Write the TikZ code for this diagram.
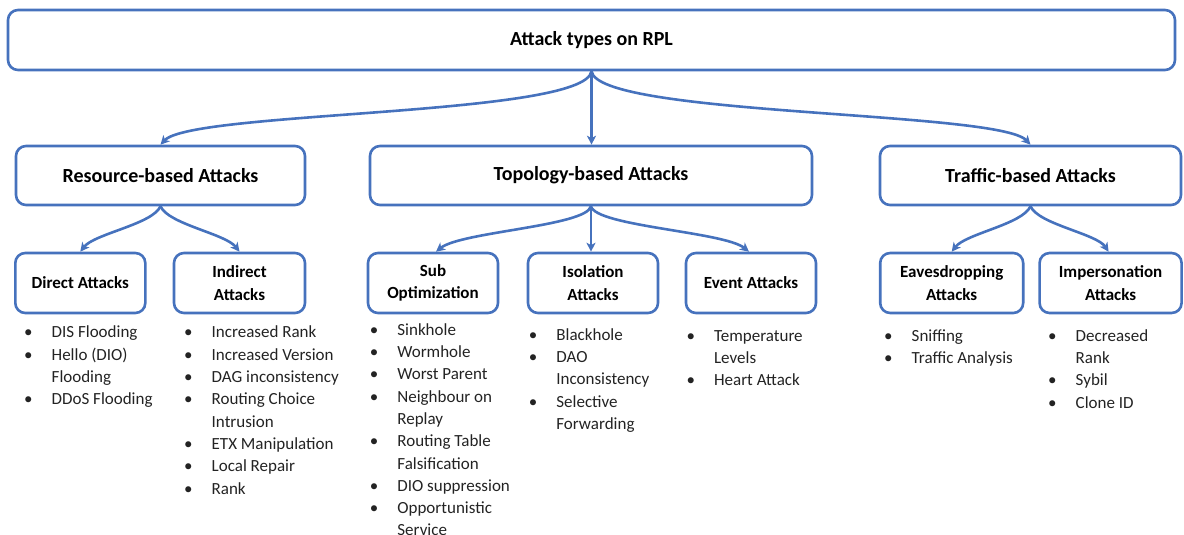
\documentclass[tikz,border=0pt]{standalone}
\usepackage{fontspec}
\setmainfont{Carlito}
\usetikzlibrary{arrows.meta,calc}
\definecolor{lb}{RGB}{70,114,189}
\definecolor{tx}{RGB}{35,35,35}
\newcommand\itm[1]{\strut\makebox[27.5pt][l]{\textbullet}#1}
\newcommand\cnt[1]{\strut\hspace*{27.5pt}#1}
\begin{document}
\begin{tikzpicture}[x=1pt,y=-1pt,
 box/.style={draw=lb, line width=2.6pt, rounded corners=10pt, fill=white, inner sep=0pt, align=center, text=black},
 big/.style={box, font=\fontsize{20}{24}\selectfont\bfseries, minimum height=59pt},
 sml/.style={box, font=\fontsize{17}{22.3}\selectfont\bfseries, minimum height=60pt},
 lst/.style={anchor=north west, inner sep=0pt, align=left, font=\fontsize{17}{22.3}\selectfont, text=tx},
 arr/.style={draw=lb, line width=2.6pt, -{Stealth[length=9pt,width=9pt,inset=2.5pt]}}
]
\useasboundingbox (0,0) rectangle (1184,535);

\node[big, minimum width=1167pt, minimum height=60pt] (top) at (591.5,40) {Attack types on RPL};

\node[big, minimum width=289pt] (res) at (160.5,175.5) {Resource-based Attacks};
\node[big, minimum width=442pt] (topo) at (591,175.5) {Topology-based Attacks};
\node[big, minimum width=301pt] (traf) at (1030.5,175.5) {Traffic-based Attacks};

\node[sml, minimum width=130pt] (dir) at (80.3,283) {Direct Attacks};
\node[sml, minimum width=131pt] (ind) at (239.5,283) {Indirect\\Attacks};
\node[sml, minimum width=130pt] (sub) at (433,283) {Sub\\Optimization};
\node[sml, minimum width=130pt] (iso) at (593,283) {Isolation\\Attacks};
\node[sml, minimum width=130pt] (evt) at (751,283) {Event Attacks};
\node[sml, minimum width=143pt] (eav) at (951.7,283) {Eavesdropping\\Attacks};
\node[sml, minimum width=142pt] (imp) at (1110.6,283) {Impersonation\\Attacks};

% connectors
\draw[arr] (top.south) .. controls ($(top.south)+(-7,45)$) and ($(res.north)+(32,-34)$) .. (res.north);
\draw[arr] (top.south) -- (top.south |- topo.north);
\draw[arr] (top.south) .. controls ($(top.south)+(7,45)$) and ($(traf.north)+(-32,-34)$) .. (traf.north);

\draw[arr] (res.south) .. controls ($(res.south)+(-8,18)$) and ($(dir.north)+(14,-18)$) .. (dir.north);
\draw[arr] (res.south) .. controls ($(res.south)+(8,18)$) and ($(ind.north)+(-14,-18)$) .. (ind.north);

\draw[arr] (topo.south) .. controls ($(topo.south)+(-5,20)$) and ($(sub.north)+(28,-20)$) .. ($(sub.north)+(3,0)$);
\draw[arr] (topo.south) -- (topo.south |- iso.north);
\draw[arr] (topo.south) .. controls ($(topo.south)+(5,20)$) and ($(evt.north)+(-27,-20)$) .. ($(evt.north)+(-2,0)$);

\draw[arr] (traf.south) .. controls ($(traf.south)+(-8,18)$) and ($(eav.north)+(14,-18)$) .. (eav.north);
\draw[arr] (traf.south) .. controls ($(traf.south)+(8,18)$) and ($(imp.north)+(-14,-18)$) .. ($(imp.north)+(-2,0)$);

% lists
\node[lst] (ldir) at (24,322.1) {\itm{DIS Flooding}\\\itm{Hello (DIO)}\\\cnt{Flooding}\\\itm{DDoS Flooding}};
\node[lst] (lind) at (184,322.1) {\itm{Increased Rank}\\\itm{Increased Version}\\\itm{DAG inconsistency}\\\itm{Routing Choice}\\\cnt{Intrusion}\\\itm{ETX Manipulation}\\\itm{Local Repair}\\\itm{Rank}};
\node[lst] (lsub) at (369.7,319.4) {\itm{Sinkhole}\\\itm{Wormhole}\\\itm{Worst Parent}\\\itm{Neighbour on}\\\cnt{Replay}\\\itm{Routing Table}\\\cnt{Falsification}\\\itm{DIO suppression}\\\itm{Opportunistic}\\\cnt{Service}};
\node[lst] (liso) at (528.7,324.4) {\itm{Blackhole}\\\itm{DAO}\\\cnt{Inconsistency}\\\itm{Selective}\\\cnt{Forwarding}};
\node[lst] (levt) at (686.4,325.4) {\itm{Temperature}\\\cnt{Levels}\\\itm{Heart Attack}};
\node[lst] (leav) at (884,325.4) {\itm{Sniffing}\\\itm{Traffic Analysis}};
\node[lst] (limp) at (1048,325.4) {\itm{Decreased}\\\cnt{Rank}\\\itm{Sybil}\\\itm{Clone ID}};
\end{tikzpicture}
\end{document}
